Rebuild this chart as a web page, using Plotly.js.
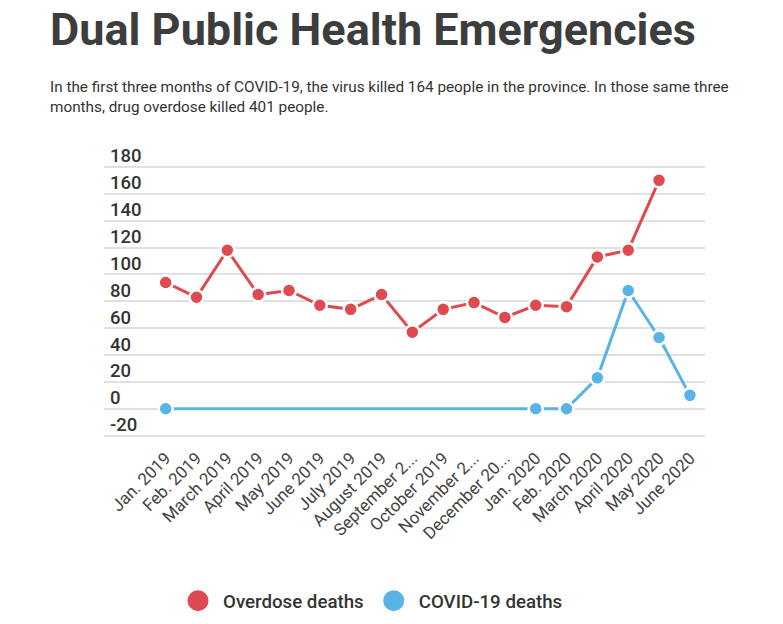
<!DOCTYPE html>
<html>
<head>
<meta charset="utf-8">
<script src="https://cdn.plot.ly/plotly-3.0.1.min.js"></script>
<style>html,body{margin:0;padding:0;background:#fff;}#chart{width:783px;height:624px;}</style>
</head>
<body>
<div id="chart"></div>
<script>
const months = ["Jan. 2019","Feb. 2019","March 2019","April 2019","May 2019","June 2019","July 2019","August 2019","September 2...","October 2019","November 2...","December 20...","Jan. 2020","Feb. 2020","March 2020","April 2020","May 2020","June 2020"];
const overdoseDeaths = [94,83,118,85,88,77,74,85,57,74,79,68,77,76,113,118,170,null];
const covidDeaths = [0,null,null,null,null,null,null,null,null,null,null,null,0,0,23,88,53,10];
const yTicks = [-20,0,20,40,60,80,100,120,140,160,180];
const seriesNames = ["Overdose deaths","COVID-19 deaths"];
const titleText = "Dual Public Health Emergencies";
const subtitleText = "In the first three months of COVID-19, the virus killed 164 people in the province. In those same three<br>months, drug overdose killed 401 people.";

const RED = "#df4a50", BLUE = "#58b3e6";
const xIdx = months.map((m,i)=>i);

// plot area: y=-21 at 437.3px, y=200 at top
const yMin = -21, yMax = 200, pxPerUnit = 1.344;
const plotBottom = 437.3, plotTop = plotBottom - (yMax - yMin) * pxPerUnit;
const plotH = plotBottom - plotTop;

const traces = [
  {x: xIdx, y: overdoseDeaths, type:"scatter", mode:"lines+markers", connectgaps:true, showlegend:false,
   line:{color:RED, width:3}, marker:{color:RED, size:14, line:{color:"#fff", width:2.5}}, cliponaxis:false, hoverinfo:"skip"},
  {x: xIdx, y: covidDeaths, type:"scatter", mode:"lines+markers", connectgaps:true, showlegend:false,
   line:{color:BLUE, width:3}, marker:{color:BLUE, size:14, line:{color:"#fff", width:2.5}}, cliponaxis:false, hoverinfo:"skip"},
  {x:[null], y:[null], type:"scatter", mode:"markers", name:seriesNames[0], marker:{color:RED, size:16, line:{color:RED, width:5}}},
  {x:[null], y:[null], type:"scatter", mode:"markers", name:seriesNames[1], marker:{color:BLUE, size:16, line:{color:BLUE, width:5}}}
];

const layout = {
  width:783, height:624,
  margin:{l:104, r:78, t:plotTop, b:624-plotBottom, pad:0},
  paper_bgcolor:"#fff", plot_bgcolor:"#fff",
  font:{family:"Roboto, sans-serif", color:"#333"},
  title:{text:titleText, x:50/783, xanchor:"left", xref:"container", y:1-13/624, yref:"container", yanchor:"top",
         font:{family:"Roboto, sans-serif", size:45, weight:700, color:"#3d3d3d"}},
  annotations:[{text:subtitleText, xref:"paper", yref:"paper", x:(48-104)/601, y:(plotBottom-76)/plotH, xanchor:"left", yanchor:"top",
                showarrow:false, align:"left", font:{family:"Roboto, sans-serif", size:15.3, color:"#333"}}],
  xaxis:{type:"linear", range:[-2, 17.49], tickmode:"array", tickvals:xIdx, ticktext:months, tickangle:-45,
         showgrid:false, zeroline:false, showline:false, ticks:"", ticklabelstandoff:7,
         tickfont:{size:17, color:"#444"}, fixedrange:true},
  yaxis:{range:[yMin, yMax], tickmode:"array", tickvals:yTicks, ticktext:yTicks.map(String),
         showgrid:true, gridcolor:"#e0e0e0", gridwidth:2, zeroline:false, showline:false, ticks:"",
         ticklabelposition:"inside", ticklabelshift:-11, ticklabelstandoff:3,
         tickfont:{size:18.5, color:"#333", weight:500}, fixedrange:true},
  legend:{orientation:"h", xref:"container", yref:"container", x:173/783, xanchor:"left", y:1-601/624, yanchor:"middle",
          font:{size:18.7, color:"#333", weight:500}, itemsizing:"trace", itemwidth:40,
          bgcolor:"rgba(0,0,0,0)"},
  hovermode:false
};

Plotly.newPlot("chart", traces, layout, {displayModeBar:false, staticPlot:true});
</script>
</body>
</html>
